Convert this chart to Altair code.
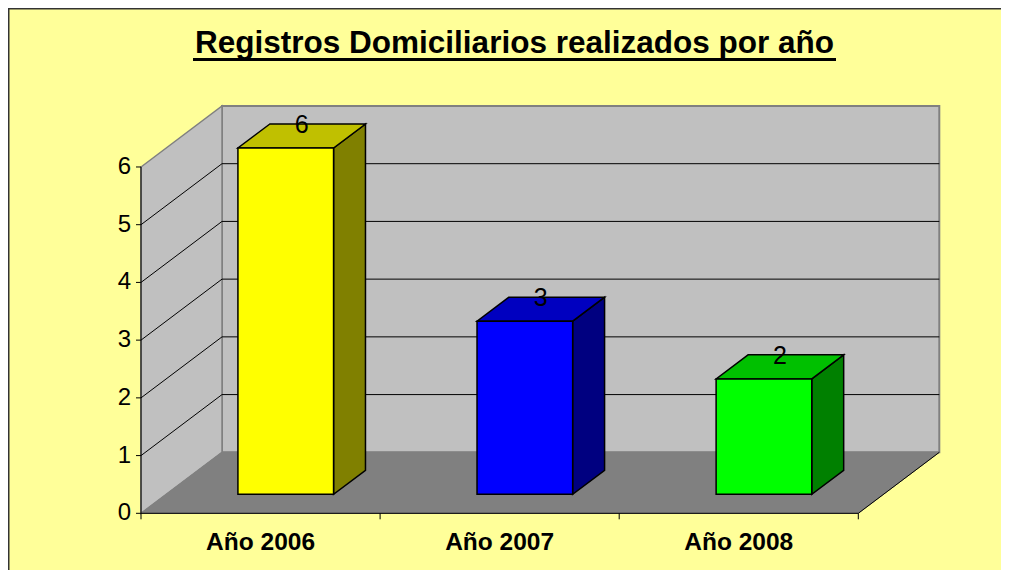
import altair as alt
import pandas as pd

# ---------------- data ----------------
categories = ["Año 2006", "Año 2007", "Año 2008"]
values = [6, 3, 2]
front_colors = ["#FFFF00", "#0000FF", "#00FF00"]
top_colors = ["#C0C000", "#0000C0", "#00C000"]
side_colors = ["#808000", "#000080", "#008000"]
y_ticks = [0, 1, 2, 3, 4, 5, 6]
grid_values = [1, 2, 3, 4, 5]
title_text = "Registros Domiciliarios realizados por año"

# ---------------- layout (pseudo 3D geometry) ----------------
W, H = 993, 562
PX_U = 239.1          # pixels per category unit
PX_V = 57.72          # pixels per value unit
ORIG_X, ORIG_Y = 133.0, 505.3   # front origin inside the chart
DX = 81 / PX_U        # full depth, x component (category units)
DY = 61 / PX_V        # full depth, y component (value units)
D_FRONT, D_BACK = 0.311, 0.705
BAR_LO, BAR_HI = 0.3, 0.7
N = len(categories)
YMAX = max(y_ticks)
FONT = "Liberation Sans"

xs = alt.Scale(domain=[-ORIG_X / PX_U, (W - ORIG_X) / PX_U], zero=False, nice=False)
ys = alt.Scale(domain=[(ORIG_Y - H) / PX_V, ORIG_Y / PX_V], zero=False, nice=False)


def X(f):
    return alt.X(f"{f}:Q", scale=xs, axis=None)


def Y(f):
    return alt.Y(f"{f}:Q", scale=ys, axis=None)


# ---------------- tables built from the arrays ----------------
front_df = pd.DataFrame({
    "cat": categories,
    "x": [i + BAR_LO + D_FRONT * DX for i in range(N)],
    "x2": [i + BAR_HI + D_FRONT * DX for i in range(N)],
    "y": [D_FRONT * DY] * N,
    "y2": [v + D_FRONT * DY for v in values],
    "color": front_colors,
})

top_rows, side_rows = [], []
for i, (c, v) in enumerate(zip(categories, values)):
    for d in (D_FRONT, D_BACK):
        top_rows.append({"cat": c, "y": v + d * DY,
                         "x": i + BAR_LO + d * DX, "x2": i + BAR_HI + d * DX,
                         "color": top_colors[i]})
        side_rows.append({"cat": c, "x": i + BAR_HI + d * DX,
                          "y": v + d * DY, "y2": d * DY,
                          "color": side_colors[i]})
top_df = pd.DataFrame(top_rows)
side_df = pd.DataFrame(side_rows)

label_df = pd.DataFrame({
    "label": [str(v) for v in values],
    "x": [i + 0.5 + (D_FRONT + D_BACK) / 2 * DX for i in range(N)],
    "y": [v + (D_FRONT + D_BACK) / 2 * DY for v in values],
})

back_wall_df = pd.DataFrame({"x": [DX], "x2": [N + DX], "y": [DY], "y2": [YMAX + DY]})
left_wall_df = pd.DataFrame({"x": [0, DX], "y": [YMAX, YMAX + DY], "y2": [0, DY]})
floor_df = pd.DataFrame({"y": [0, DY], "x": [0, DX], "x2": [N, N + DX]})

grid_back_df = pd.DataFrame({"x": [DX] * len(grid_values), "x2": [N + DX] * len(grid_values),
                             "y": [g + DY for g in grid_values]})
grid_left_df = pd.DataFrame({"x": [0] * len(grid_values), "x2": [DX] * len(grid_values),
                             "y": grid_values, "y2": [g + DY for g in grid_values]})

yaxis_df = pd.DataFrame({"x": [0], "y": [0], "y2": [YMAX]})
ytick_df = pd.DataFrame({"x": [0] * len(y_ticks), "y": y_ticks, "label": [str(t) for t in y_ticks]})
xaxis_df = pd.DataFrame({"x": [0], "x2": [N], "y": [0]})
xtick_df = pd.DataFrame({"x": list(range(N + 1)), "y": [0] * (N + 1)})
floor_edge_df = pd.DataFrame({"x": [N], "x2": [N + DX], "y": [0], "y2": [DY]})
xlabel_df = pd.DataFrame({"label": categories, "x": [i + 0.5 for i in range(N)], "y": [0] * N})
one = pd.DataFrame({"a": [0]})

# ---------------- layers ----------------
back_wall = alt.Chart(back_wall_df).mark_rect(fill="#C0C0C0", stroke="#808080", strokeWidth=2).encode(
    x=X("x"), x2="x2", y=Y("y"), y2="y2")
left_wall = alt.Chart(left_wall_df).mark_area(fill="#C0C0C0", stroke="#808080", strokeWidth=1.5,
                                               orient="vertical").encode(
    x=X("x"), y=Y("y"), y2="y2")
floor = alt.Chart(floor_df).mark_area(fill="#808080", stroke="#808080", strokeWidth=1,
                                      orient="horizontal").encode(
    y=Y("y"), x=X("x"), x2="x2")
grid_back = alt.Chart(grid_back_df).mark_rule(color="black", strokeWidth=1).encode(
    x=X("x"), x2="x2", y=Y("y"))
grid_left = alt.Chart(grid_left_df).mark_rule(color="black", strokeWidth=1).encode(
    x=X("x"), x2="x2", y=Y("y"), y2="y2")

side = alt.Chart(side_df).mark_area(stroke="black", strokeWidth=1.5, orient="vertical").encode(
    x=X("x"), y=Y("y"), y2="y2", detail="cat:N", fill=alt.Fill("color:N", scale=None))
top = alt.Chart(top_df).mark_area(stroke="black", strokeWidth=1.5, orient="horizontal").encode(
    y=Y("y"), x=X("x"), x2="x2", detail="cat:N", fill=alt.Fill("color:N", scale=None))
front = alt.Chart(front_df).mark_rect(stroke="black", strokeWidth=1.5).encode(
    x=X("x"), x2="x2", y=Y("y"), y2="y2", fill=alt.Fill("color:N", scale=None))

value_labels = alt.Chart(label_df).mark_text(font=FONT, fontSize=25, color="black",
                                             baseline="alphabetic", dy=-3).encode(
    x=X("x"), y=Y("y"), text="label:N")

yaxis = alt.Chart(yaxis_df).mark_rule(color="black", strokeWidth=1).encode(
    x=X("x"), y=Y("y"), y2="y2")
yticks = alt.Chart(ytick_df).mark_rule(color="black", strokeWidth=1, x2Offset=-5).encode(
    x=X("x"), x2="x", y=Y("y"))
ylabels = alt.Chart(ytick_df).mark_text(font=FONT, fontSize=24, color="black", align="right",
                                        baseline="middle", dx=-10).encode(
    x=X("x"), y=Y("y"), text="label:N")
xaxis = alt.Chart(xaxis_df).mark_rule(color="black", strokeWidth=1).encode(
    x=X("x"), x2="x2", y=Y("y"))
xticks = alt.Chart(xtick_df).mark_rule(color="black", strokeWidth=1, y2Offset=6).encode(
    x=X("x"), y=Y("y"), y2="y")
floor_edge = alt.Chart(floor_edge_df).mark_rule(color="black", strokeWidth=1).encode(
    x=X("x"), x2="x2", y=Y("y"), y2="y2")
xlabels = alt.Chart(xlabel_df).mark_text(font=FONT, fontSize=24.5, fontWeight="bold", color="black",
                                         baseline="alphabetic", dy=36.7).encode(
    x=X("x"), y=Y("y"), text="label:N")

title = alt.Chart(one).mark_text(text=title_text, font=FONT, fontSize=31.5, fontWeight="bold",
                                 color="black", baseline="alphabetic", align="center").encode(
    x=alt.value(506.5), y=alt.value(44.5))
underline = alt.Chart(one).mark_rule(color="black", strokeWidth=3).encode(
    x=alt.value(185), x2=alt.value(828), y=alt.value(51.5))
border_left = alt.Chart(one).mark_rule(color="#333333", strokeWidth=1.5).encode(
    x=alt.value(0.75), y=alt.value(0), y2=alt.value(H))
border_top = alt.Chart(one).mark_rule(color="#333333", strokeWidth=1.5).encode(
    x=alt.value(0), x2=alt.value(W), y=alt.value(0.75))
edge_right = alt.Chart(one).mark_rule(color="#FFFF99", strokeWidth=3).encode(
    x=alt.value(W - 1), y=alt.value(2), y2=alt.value(H))

chart = alt.layer(
    back_wall, left_wall, floor, grid_back, grid_left,
    side, top, front, value_labels,
    yaxis, yticks, ylabels, xaxis, xticks, floor_edge, xlabels,
    title, underline, border_left, border_top, edge_right,
).properties(
    width=W, height=H, autosize="none", padding=0, background="#FFFF99"
).configure_view(stroke="transparent", strokeWidth=0, fill="#FFFF99")

chart.save("out.html", embed_options={"renderer": "svg", "actions": False})
